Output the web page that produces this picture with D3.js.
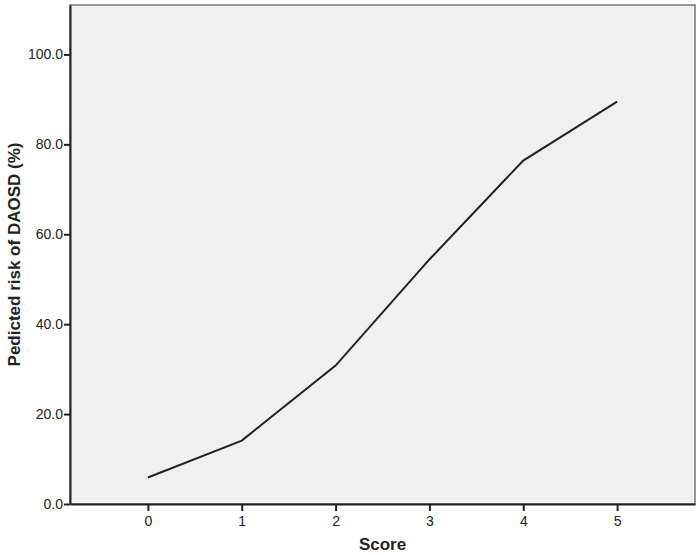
<!DOCTYPE html>
<html>
<head>
<meta charset="utf-8">
<script src="https://cdn.jsdelivr.net/npm/d3@7"></script>
<style>
body { margin: 0; background: #fff; }
.axis text { font-family: "Liberation Sans", Arial, sans-serif; font-size: 14px; fill: #222; }
.axis path, .axis line { stroke: #222; stroke-width: 2px; }
.label { font-family: "Liberation Sans", Arial, sans-serif; font-weight: bold; font-size: 17px; fill: #222; }
</style>
</head>
<body>
<svg class="graph1"></svg>
<script>
var scores = [0, 1, 2, 3, 4, 5];
var risk = [5.9, 14.1, 30.8, 54.4, 76.4, 89.5];
var yTicks = [0, 20, 40, 60, 80, 100];

var makeTranslateString = function(x,y)
{
    return "translate("+x+","+y+")";
}

var screen = {width:699,height:555}
var margins = {left:70,right:4,top:5,bottom:51}
var graph = {
    width:screen.width-margins.left-margins.right,
    height:screen.height-margins.top-margins.bottom
}

var svg = d3.select(".graph1")
    .attr("width",screen.width)
    .attr("height",screen.height)
    .style("display","block")

var xScale = d3.scaleLinear()
    .domain([-0.83,5.83])
    .range([0,graph.width])

var yScale = d3.scaleLinear()
    .domain([0,111])
    .range([graph.height,0])

var target = svg.append("g")
    .attr("transform",makeTranslateString(margins.left,margins.top))

// plot background + frame
target.append("rect")
    .attr("width",graph.width)
    .attr("height",graph.height)
    .attr("fill","#f0f0f0")
    .attr("stroke","#777")
    .attr("stroke-width",1.5)

var line = d3.line()
    .x(function(d,i){return xScale(scores[i]);})
    .y(function(d){return yScale(d);})

target.append("path")
    .datum(risk)
    .attr("d",line)
    .attr("fill","none")
    .attr("stroke","#222")
    .attr("stroke-width",2)

var xAxis = d3.axisBottom(xScale)
    .tickValues(scores)
    .tickFormat(d3.format("d"))
    .tickSize(7)
    .tickSizeOuter(0)

var yAxis = d3.axisLeft(yScale)
    .tickValues(yTicks)
    .tickFormat(d3.format(".1f"))
    .tickSize(6)
    .tickSizeOuter(0)

target.append("g")
    .classed("axis",true)
    .attr("transform",makeTranslateString(0,graph.height))
    .call(xAxis)
    .call(function(g){g.selectAll("text").attr("dy","0.85em");})

target.append("g")
    .classed("axis",true)
    .call(yAxis)
    .call(function(g){g.selectAll("text").attr("x",-7);})

svg.append("text")
    .classed("label",true)
    .attr("text-anchor","middle")
    .attr("x",margins.left+xScale(2.5))
    .attr("y",550)
    .text("Score")

svg.append("g")
    .attr("transform",makeTranslateString(20,margins.top+graph.height/2))
    .append("text")
    .classed("label",true)
    .attr("text-anchor","middle")
    .attr("transform","rotate(-90)")
    .text("Pedicted risk of DAOSD (%)")
</script>
</body>
</html>
